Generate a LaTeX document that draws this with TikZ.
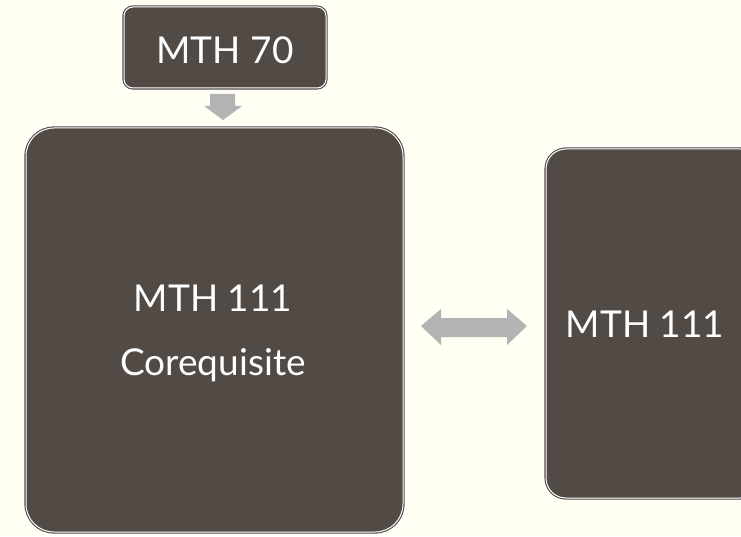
\documentclass[tikz,border=0pt]{standalone}
\usepackage{fontspec}
\setmainfont{Lato}
\definecolor{paper}{HTML}{FFFFF3}
\definecolor{boxbrown}{HTML}{524A45}
\definecolor{arrowgray}{HTML}{B3B3B3}
\tikzset{
  course/.style={fill=boxbrown, draw=boxbrown, double=white,
    double distance=1pt, line width=1.1pt, inner sep=0pt},
  halo/.style={draw=white, line width=6pt},
  label/.style={text=white, font=\fontsize{37}{64}\selectfont, align=center},
  blockarrow/.style={fill=arrowgray, draw=none}
}
\begin{document}
\begin{tikzpicture}[x=1pt, y=1pt]
  \fill[paper] (0,0) rectangle (741,536);
  \useasboundingbox (0,0) rectangle (741,536);
  \clip (0,0) rectangle (741,536);

  % course boxes (soft white halo, then the double-ruled box)
  \draw[halo, rounded corners=9pt] (124,448) rectangle (326,529);
  \draw[halo, rounded corners=28pt] (26,4) rectangle (403,408);
  \draw[halo, rounded corners=20pt] (546,38) rectangle (760,387);
  \draw[course, rounded corners=9pt] (124,448) rectangle (326,529);
  \draw[course, rounded corners=28pt] (26,4) rectangle (403,408);
  \draw[course, rounded corners=20pt] (546,38) rectangle (760,387);

  \node[label] (mth70) at (225,486) {MTH 70};
  \node[label] (coreq) at (213,203) {MTH 111\\Corequisite};
  \node[label] (mth111) at (645,212) {MTH 111};

  % down arrow from MTH 70 into the corequisite box
  \fill[blockarrow] (210,442) -- (235,442) -- (235,430) -- (242,430)
    -- (223,416) -- (204,430) -- (210,430) -- cycle;

  % two-way arrow between the two versions of MTH 111
  \fill[blockarrow] (421,210) -- (441,227) -- (441,218) -- (507,218)
    -- (507,227) -- (527,210) -- (507,191) -- (507,199) -- (441,199)
    -- (441,191) -- cycle;
\end{tikzpicture}
\end{document}
